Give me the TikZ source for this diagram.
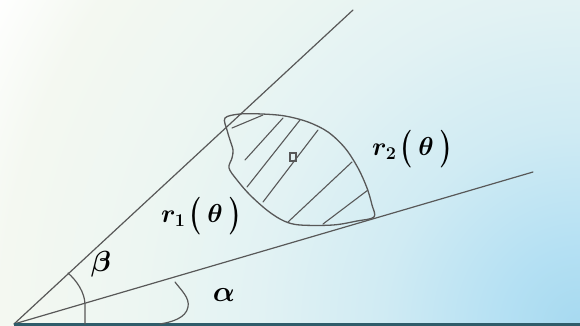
\documentclass[tikz,border=0pt]{standalone}
\definecolor{ln}{HTML}{585858}
\definecolor{baseteal}{HTML}{2F5C6A}
\definecolor{bA}{HTML}{A6D9F0}
\definecolor{bB}{HTML}{B4E0F3}
\definecolor{bC}{HTML}{D0EBF3}
\definecolor{bD}{HTML}{E2F2F3}
\definecolor{bE}{HTML}{EDF6F2}
\definecolor{bF}{HTML}{F4F8F1}
\pgfdeclareradialshading{bgrad}{\pgfpoint{0bp}{0bp}}{color(0bp)=(bA); color(2.7bp)=(bB); color(7.1bp)=(bC); color(11.6bp)=(bD); color(16bp)=(bE); color(20.7bp)=(bF); color(24bp)=(white); color(50bp)=(white)}
\newcommand{\myparen}[1]{\raisebox{-2.5pt}{\scalebox{1.1}[1.45]{\textbf{#1}}}}
\tikzset{
  ray/.style={draw=ln, line width=1.2pt, line cap=round, line join=round},
  hatchline/.style={draw=ln, line width=1.1pt, line cap=round},
  baseline/.style={draw=baseteal, line width=3pt},
  lbl/.style={inner sep=0pt, text=black, font=\huge\boldmath}
}
\begin{document}
\begin{tikzpicture}[x=1pt, y=-1pt]
\useasboundingbox (0,0) rectangle (580,326);
\begin{scope}
  \clip (0,0) rectangle (580,326);
  \shade[shading=bgrad] (580,326) circle[radius=700];
\end{scope}
% rays
\coordinate (O) at (14,324);
\coordinate (U) at (353,10);
\coordinate (L) at (533,172);
\coordinate (R) at (580,324);
\draw[ray] (O) -- (U);
\draw[ray] (O) -- (L);
\draw[baseline] (O) -- (R);
% angle marks
\draw[ray] (68,273) .. controls (76,280) and (85,292) .. (85,305) -- (85,324);
\draw[ray] (175,282) .. controls (181,290) and (190,298) .. (188,307) .. controls (186,318) and (172,322) .. (160,324);
% region
\draw[ray, line width=1.3pt] plot[smooth cycle, tension=0.55] coordinates {
  (225,118) (240,114) (262,114) (285,116) (308,122) (328,132) (345,148)
  (358,168) (367,188) (372,205) (374,217) (357,221) (333,225) (300,225)
  (284,221) (268,211) (250,195) (237,180) (229,168) (232,158) (233,150)
  (230,140) (227,130)};
% hatching
\draw[hatchline] (232,128) -- (263,115);
\draw[hatchline] (245,160) -- (283,118);
\draw[hatchline] (247,187) -- (300,120);
\draw[hatchline] (263,202) -- (318,130);
\draw[hatchline] (288,222) -- (352,162);
\draw[hatchline] (323,224) -- (368,190);
\node[draw=ln, line width=1.3pt, minimum width=6pt, minimum height=8pt, inner sep=0pt] (pt) at (293,157) {};
% labels
\node[lbl] (r1) at (201,216) {\scalebox{1.25}{$r_1$\hspace{3pt}\myparen{(}\hspace{4.5pt}$\theta$\hspace{4.5pt}\myparen{)}}};
\node[lbl] (r2) at (412,149) {\scalebox{1.25}{$r_2$\hspace{3pt}\myparen{(}\hspace{4.5pt}$\theta$\hspace{4.5pt}\myparen{)}}};
\node[lbl] (beta) at (101,264) {\scalebox{1.4}{$\beta$}};
\node[lbl] (alpha) at (224,295) {\scalebox{1.4}{$\alpha$}};
\end{tikzpicture}
\end{document}
